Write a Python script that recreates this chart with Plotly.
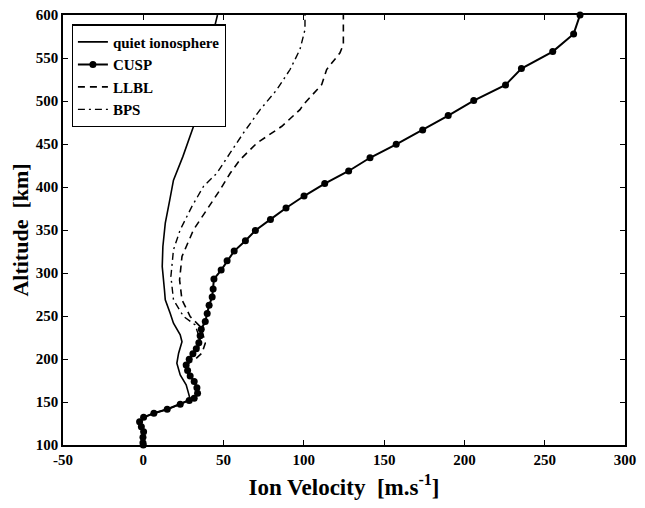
import plotly.graph_objects as go

# CUSP (solid line with dots)
cusp_alt = [100, 102.7, 109, 115.5, 121.3, 127.1, 132.2, 136.9, 141.6, 147.4, 151.6, 154.4,
            160.2, 166.7, 173.7, 180.3, 186.5, 193.1, 199.8, 206, 211.8, 219, 226.9, 234.7,
            243.5, 252.9, 262.6, 272, 281.3, 292.9, 303.4, 314.2, 325.5, 337.5, 349.5, 362.3,
            375.6, 389.5, 404, 418.6, 434, 449.6, 466.4, 483, 500.5, 518.7, 537.7, 557.5, 578, 600]
cusp_vel = [0, -0.2, -0.2, 0.2, -1.2, -2.3, 0.2, 6.6, 14.9, 23, 28.6, 31.7,
            33.8, 33.4, 31.7, 29.2, 27.6, 26.7, 28.6, 30.9, 33, 34.6, 35.4, 36.1,
            38.6, 39.8, 41, 42.9, 43.5, 44, 48.5, 52.2, 56.6, 63.6, 69.8, 79.2,
            88.9, 100.1, 113, 127.9, 141.2, 157.5, 174, 189.9, 205.8, 225.6, 235.5, 255, 268, 272]

# quiet ionosphere (solid)
quiet_alt = [100, 102.7, 109, 115.5, 121.3, 127.1, 132.2, 136.9, 141.6, 147.4, 151.6, 154.4,
             160, 170, 181.5, 195, 206.8, 220, 228, 241.7, 253, 268.8, 280, 307.5, 330.9,
             358, 385, 408, 435.6, 470.5, 513, 560, 600]
quiet_vel = [0, -0.2, -0.2, 0.2, -1.2, -2.3, 0.2, 6.6, 14.9, 23, 27.5, 29,
             28.2, 26.7, 23, 20.9, 22, 24.1, 23, 18.8, 16.8, 13.7, 13.2, 11.8, 12.2,
             13.7, 16.5, 18.8, 24.7, 31.3, 36.5, 41, 46.2]

# LLBL (dashed)
llbl_alt = [193.1, 199, 206.8, 218.4, 230, 237.8, 249.4, 268.8, 292, 319.2, 350.3, 381.4,
            397, 416, 431.8, 451, 470.6, 490, 495.8, 519, 536.6, 556, 565.7, 600]
llbl_vel = [26.7, 32, 36.5, 38.6, 37, 35.4, 29.2, 24.1, 22.6, 24.1, 31.3, 42.7,
            47.9, 54.1, 60.3, 70.7, 86.3, 97.6, 99.7, 111.1, 114.2, 122.5, 124.6, 124.6]

# BPS (dash-dot)
bps_alt = [193.1, 202.8, 212.6, 222, 239.7, 249.4, 268.8, 296, 327, 350.3, 377.4, 400.7,
           416, 439.6, 462.9, 490, 513, 536.6, 560, 583, 600]
bps_vel = [26.7, 30.3, 34.4, 35.4, 32.3, 25.1, 18.8, 17.2, 18.8, 23, 30.3, 37.5,
           45.8, 54.1, 62.4, 72.8, 83.1, 91.4, 97.6, 100.7, 100.7]

x_ticks = [-50, 0, 50, 100, 150, 200, 250, 300]
y_ticks = [100, 150, 200, 250, 300, 350, 400, 450, 500, 550, 600]

FONT = "Liberation Serif"

fig = go.Figure()
fig.add_trace(go.Scatter(x=quiet_vel, y=quiet_alt, mode="lines", name="quiet ionosphere",
                         line=dict(color="black", width=1.6)))
fig.add_trace(go.Scatter(x=cusp_vel, y=cusp_alt, mode="lines+markers", name="CUSP",
                         line=dict(color="black", width=2), cliponaxis=False,
                         marker=dict(color="black", size=7)))
fig.add_trace(go.Scatter(x=llbl_vel, y=llbl_alt, mode="lines", name="LLBL",
                         line=dict(color="black", width=1.6, dash="7px,5px")))
fig.add_trace(go.Scatter(x=bps_vel, y=bps_alt, mode="lines", name="BPS",
                         line=dict(color="black", width=1.4, dash="7px,4px,2px,4px")))

axis_common = dict(showline=True, linecolor="black", linewidth=1.5, mirror="ticks",
                   ticks="inside", ticklen=5, tickcolor="black", tickwidth=1.2,
                   showgrid=False, zeroline=False,
                   tickfont=dict(family=FONT, size=15, color="black", weight="bold"))

fig.update_xaxes(range=[-50, 300], tickvals=x_ticks, ticktext=[str(v) for v in x_ticks],
                 title=dict(text="Ion Velocity  [m.s<sup>-1</sup>]", standoff=12,
                            font=dict(family=FONT, size=23, color="black", weight="bold")),
                 **axis_common)
fig.update_yaxes(range=[100, 600], tickvals=y_ticks, ticktext=[str(v) for v in y_ticks],
                 title=dict(text="Altitude  [km]", standoff=1,
                            font=dict(family=FONT, size=22, color="black", weight="bold")),
                 **axis_common)

fig.update_layout(
    width=645, height=508,
    margin=dict(l=63, r=20, t=15, b=63, autoexpand=False),
    plot_bgcolor="white", paper_bgcolor="white",
    showlegend=True,
    legend=dict(x=0.0155, y=0.978, xanchor="left", yanchor="top",
                bgcolor="white", bordercolor="black", borderwidth=1.2,
                font=dict(family=FONT, size=15, color="black", weight="bold"),
                tracegroupgap=0, itemwidth=30),
)

fig.write_html("out.html", config={"displayModeBar": False},
               post_script="document.body.style.margin='0px';document.body.style.overflow='hidden';")
